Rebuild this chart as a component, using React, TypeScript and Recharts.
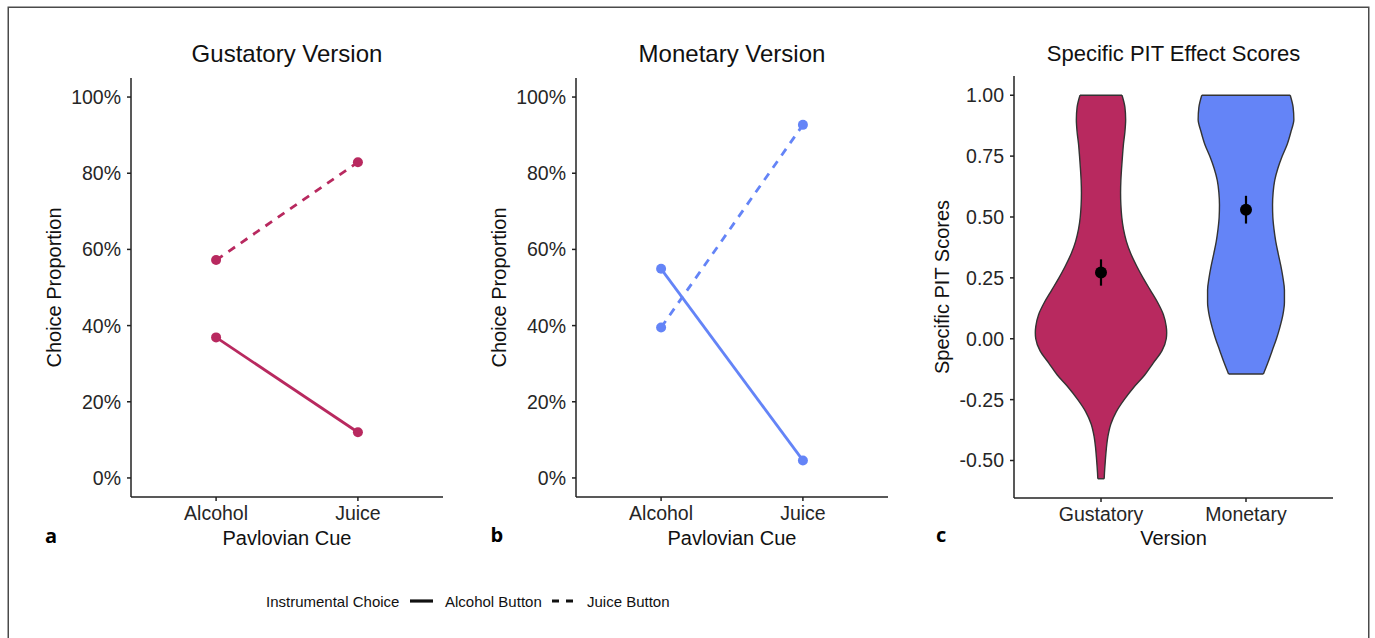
import {
  LineChart,
  Line,
  ComposedChart,
  Area,
  Scatter,
  ErrorBar,
  ReferenceLine,
  XAxis,
  YAxis,
} from 'recharts'

const CUES = ['Alcohol', 'Juice']
const VERSIONS = ['Gustatory', 'Monetary']

// choice proportion per Pavlovian cue (Alcohol, Juice)
const gustatoryAlcoholButton = [0.369, 0.12]
const gustatoryJuiceButton = [0.572, 0.829]
const monetaryAlcoholButton = [0.549, 0.046]
const monetaryJuiceButton = [0.395, 0.927]

const PERCENT_TICKS = [0, 0.2, 0.4, 0.6, 0.8, 1]
const SCORE_TICKS = [-0.5, -0.25, 0, 0.25, 0.5, 0.75, 1]

// violin outlines: score level and half width (x units)
const gustatoryViolinY = [
  -0.575, -0.55, -0.5, -0.45, -0.4, -0.35, -0.3, -0.25, -0.2, -0.15, -0.1, -0.05, 0, 0.025, 0.05,
  0.1, 0.15, 0.2, 0.25, 0.3, 0.35, 0.4, 0.45, 0.5, 0.55, 0.6, 0.65, 0.7, 0.75, 0.8, 0.85, 0.9,
  0.95, 1,
]
const gustatoryViolinHalfWidth = [
  0.022, 0.024, 0.03, 0.037, 0.048, 0.068, 0.105, 0.16, 0.225, 0.3, 0.36, 0.42, 0.45, 0.453, 0.45,
  0.43, 0.39, 0.34, 0.29, 0.245, 0.205, 0.175, 0.155, 0.143, 0.137, 0.135, 0.137, 0.142, 0.148,
  0.155, 0.165, 0.17, 0.165, 0.145,
]
const monetaryViolinY = [
  -0.145, -0.1, -0.05, 0, 0.05, 0.1, 0.15, 0.2, 0.25, 0.3, 0.35, 0.4, 0.45, 0.5, 0.55, 0.6, 0.65,
  0.7, 0.75, 0.8, 0.85, 0.9, 0.95, 1,
]
const monetaryViolinHalfWidth = [
  0.12, 0.15, 0.18, 0.21, 0.235, 0.255, 0.265, 0.265, 0.255, 0.24, 0.222, 0.205, 0.193, 0.185,
  0.183, 0.187, 0.198, 0.22, 0.25, 0.285, 0.31, 0.33, 0.325, 0.305,
]

const pitMeans = [0.272, 0.53]
const pitErrors = [0.054, 0.057]

const FONT = '"Liberation Sans", Arial, Helvetica, sans-serif'
const CRIMSON = '#B8295F'
const BLUE = '#6484F7'
const AXIS = '#222'
const TICK = { fontSize: 19.5, fill: '#262626', fontFamily: FONT }
const TITLE_STYLE = { fontSize: 20, fill: '#111', fontFamily: FONT }

function ProportionPanel({
  left,
  alcohol,
  juice,
  color,
}: {
  left: number
  alcohol: number[]
  juice: number[]
  color: string
}) {
  const data = CUES.map((cue, i) => ({ x: i + 1, cue, alcohol: alcohol[i], juice: juice[i] }))
  return (
    <div style={{ position: 'absolute', left, top: 0 }}>
      <LineChart width={460} height={570} data={data} margin={{ top: 78, right: 17, bottom: 13, left: 0 }}>
        <XAxis
          type="number"
          dataKey="x"
          domain={[0.4, 2.6]}
          ticks={[1, 2]}
          allowDataOverflow
          tickFormatter={(v) => CUES[v - 1]}
          height={60}
          tickSize={4}
          tickMargin={5}
          tick={TICK}
          axisLine={{ stroke: AXIS, strokeWidth: 1.5 }}
          tickLine={{ stroke: AXIS, strokeWidth: 1.5 }}
          label={{ value: 'Pavlovian Cue', position: 'insideBottom', offset: 12, ...TITLE_STYLE }}
        />
        <YAxis
          type="number"
          domain={[-0.05, 1.05]}
          ticks={PERCENT_TICKS}
          allowDataOverflow
          tickFormatter={(v) => `${Math.round(v * 100)}%`}
          width={131}
          tickSize={4}
          tickMargin={6}
          tick={TICK}
          axisLine={{ stroke: AXIS, strokeWidth: 1.5 }}
          tickLine={{ stroke: AXIS, strokeWidth: 1.5 }}
          label={{
            value: 'Choice Proportion',
            angle: -90,
            position: 'insideLeft',
            offset: 54,
            ...TITLE_STYLE,
            style: { textAnchor: 'middle' },
          }}
        />
        <Line
          dataKey="alcohol"
          type="linear"
          stroke={color}
          strokeWidth={2.8}
          dot={{ r: 5, fill: color, strokeWidth: 0 }}
          activeDot={false}
          isAnimationActive={false}
        />
        <Line
          dataKey="juice"
          type="linear"
          stroke={color}
          strokeWidth={2.8}
          strokeDasharray="8 7"
          dot={{ r: 5, fill: color, strokeWidth: 0 }}
          activeDot={false}
          isAnimationActive={false}
        />
      </LineChart>
    </div>
  )
}

// one row per outline level, the other violin left empty so connectNulls skips it
function violinRows(ys: number[], halfWidths: number[], center: number, key: string, other: string) {
  return ys.map((y, i) => ({
    y,
    [key]: [center - halfWidths[i], center + halfWidths[i]],
    [other]: [null, null],
  }))
}

function ViolinPanel() {
  const rows = [
    ...violinRows(gustatoryViolinY, gustatoryViolinHalfWidth, 1, 'gus', 'mon'),
    ...violinRows(monetaryViolinY, monetaryViolinHalfWidth, 2, 'mon', 'gus'),
  ].sort((a, b) => a.y - b.y)
  const means = pitMeans.map((m, i) => ({ x: i + 1, y: m, err: pitErrors[i] }))

  // flat ends of the trimmed violins
  const ends = [
    { c: 1, ys: gustatoryViolinY, ws: gustatoryViolinHalfWidth },
    { c: 2, ys: monetaryViolinY, ws: monetaryViolinHalfWidth },
  ].flatMap(({ c, ys, ws }) => [
    { c, y: ys[0], w: ws[0] },
    { c, y: ys[ys.length - 1], w: ws[ws.length - 1] },
  ])

  return (
    <div style={{ position: 'absolute', left: 890, top: 0 }}>
      <ComposedChart
        layout="vertical"
        width={470}
        height={570}
        data={rows}
        margin={{ top: 76, right: 27, bottom: 12, left: 0 }}
      >
        <XAxis
          type="number"
          domain={[0.4, 2.6]}
          ticks={[1, 2]}
          allowDataOverflow
          tickFormatter={(v) => VERSIONS[v - 1]}
          height={60}
          tickSize={4}
          tickMargin={5}
          tick={TICK}
          axisLine={{ stroke: AXIS, strokeWidth: 1.5 }}
          tickLine={{ stroke: AXIS, strokeWidth: 1.5 }}
          label={{ value: 'Version', position: 'insideBottom', offset: 13, ...TITLE_STYLE }}
        />
        <YAxis
          type="number"
          dataKey="y"
          reversed
          domain={[-0.654, 1.079]}
          ticks={SCORE_TICKS}
          allowDataOverflow
          tickFormatter={(v) => v.toFixed(2)}
          width={124}
          tickSize={4}
          tickMargin={6}
          tick={TICK}
          axisLine={{ stroke: AXIS, strokeWidth: 1.5 }}
          tickLine={{ stroke: AXIS, strokeWidth: 1.5 }}
          label={{
            value: 'Specific PIT Scores',
            angle: -90,
            position: 'insideLeft',
            offset: 52,
            ...TITLE_STYLE,
            style: { textAnchor: 'middle' },
          }}
        />
        <Area
          dataKey="gus"
          type="monotone"
          connectNulls
          fill={CRIMSON}
          fillOpacity={1}
          stroke="#333"
          strokeWidth={1.4}
          dot={false}
          activeDot={false}
          isAnimationActive={false}
        />
        <Area
          dataKey="mon"
          type="monotone"
          connectNulls
          fill={BLUE}
          fillOpacity={1}
          stroke="#333"
          strokeWidth={1.4}
          dot={false}
          activeDot={false}
          isAnimationActive={false}
        />
        {ends.map((e, i) => (
          <ReferenceLine
            key={i}
            segment={[
              { x: e.c - e.w, y: e.y },
              { x: e.c + e.w, y: e.y },
            ]}
            stroke="#333"
            strokeWidth={1.4}
            ifOverflow="visible"
          />
        ))}
        <Scatter
          data={means}
          dataKey="x"
          fill="#000"
          isAnimationActive={false}
          shape={(p: any) => <circle cx={p.cx} cy={p.cy} r={6} fill="#000" />}
        >
          <ErrorBar dataKey="err" direction="y" width={0} stroke="#000" strokeWidth={2.2} />
        </Scatter>
      </ComposedChart>
    </div>
  )
}

export default function App() {
  return (
    <div
      style={{
        position: 'absolute',
        left: 0,
        top: 0,
        width: 1375,
        height: 638,
        overflow: 'hidden',
        background: '#fff',
        fontFamily: FONT,
      }}
    >
      <ProportionPanel left={0} alcohol={gustatoryAlcoholButton} juice={gustatoryJuiceButton} color={CRIMSON} />
      <ProportionPanel left={445} alcohol={monetaryAlcoholButton} juice={monetaryJuiceButton} color={BLUE} />
      <ViolinPanel />
      <svg
        width={1375}
        height={638}
        style={{ position: 'absolute', left: 0, top: 0, pointerEvents: 'none' }}
      >
        <rect x={8.25} y={7.25} width={1360.5} height={700} fill="none" stroke="#4a4a4a" strokeWidth={1.5} />
        <g fontFamily={FONT} fill="#111" textAnchor="middle">
          <text x={287} y={62} fontSize={24}>Gustatory Version</text>
          <text x={732} y={62} fontSize={24}>Monetary Version</text>
          <text x={1173.5} y={61} fontSize={22}>Specific PIT Effect Scores</text>
        </g>
        <g fontFamily='"Open Sans", sans-serif' fontWeight={700} fontSize={20} fill="#000">
          <text x={45} y={543}>a</text>
          <text x={490.5} y={542}>b</text>
          <text x={936} y={542}>c</text>
        </g>
        <g fontFamily={FONT} fontSize={15} fill="#111">
          <text x={266} y={606.5}>Instrumental Choice</text>
          <line x1={410} x2={433} y1={601} y2={601} stroke="#111" strokeWidth={3.2} />
          <text x={445} y={606.5}>Alcohol Button</text>
          <line x1={552} x2={573} y1={601} y2={601} stroke="#111" strokeWidth={3.2} strokeDasharray="7 7" />
          <text x={587} y={606.5}>Juice Button</text>
        </g>
      </svg>
    </div>
  )
}
